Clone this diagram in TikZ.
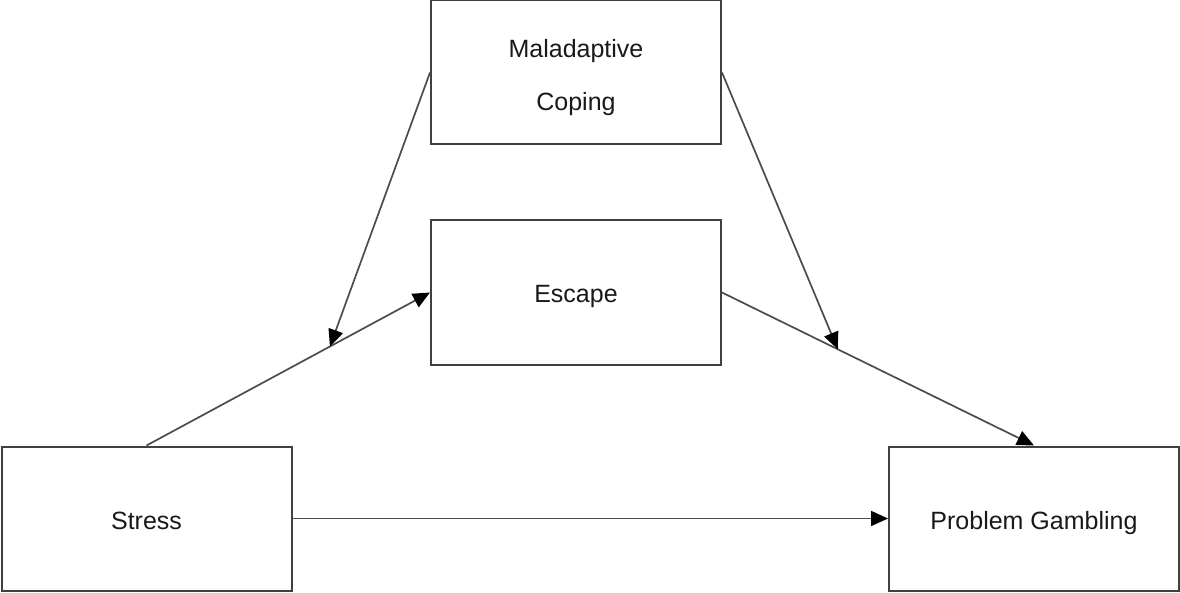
\documentclass[tikz,border=0pt]{standalone}
\usepackage{fontspec}
\setmainfont{Liberation Sans}
\usetikzlibrary{arrows.meta,calc}
\begin{document}
\begin{tikzpicture}[x=1pt,y=-1pt,
  box/.style={draw=black!75,line width=2pt,fill=white,rectangle,
    minimum width=290pt,minimum height=144pt,inner sep=0pt,align=center,
    text height=21pt,text depth=0pt,
    font=\fontsize{25}{30}\selectfont,text=black!90},
  arr/.style={draw=black!70,line width=1.7pt,-{Triangle[length=17pt,width=15pt,fill=black,color=black]}}]
\useasboundingbox (0,0) rectangle (1180,593);
\fill[white] (0,0) rectangle (1180,593);
% boxes
\node[box,text height=,text depth=] (mc) at (576,72.5) {\rule{0pt}{28pt}Maladaptive\\[23pt]Coping};
\node[box] (es) at (576,292.5) {Escape};
\node[box] (st) at (146.5,518.5) {Stress};
\node[box] (pg) at (1034,518.5) {Problem Gambling};
% targets on paths
\coordinate (m1) at ($(st.north)!0.647!(es.west)$);
\coordinate (m2) at ($(es.east)!0.371!(pg.north)$);
% arrows
\draw[arr] (st.north) -- (es.west);
\draw[arr] (es.east) -- (pg.north);
\draw[arr] (st.east) -- (pg.west);
\draw[arr] (mc.west) -- (m1);
\draw[arr] (mc.east) -- (m2);
\end{tikzpicture}
\end{document}
